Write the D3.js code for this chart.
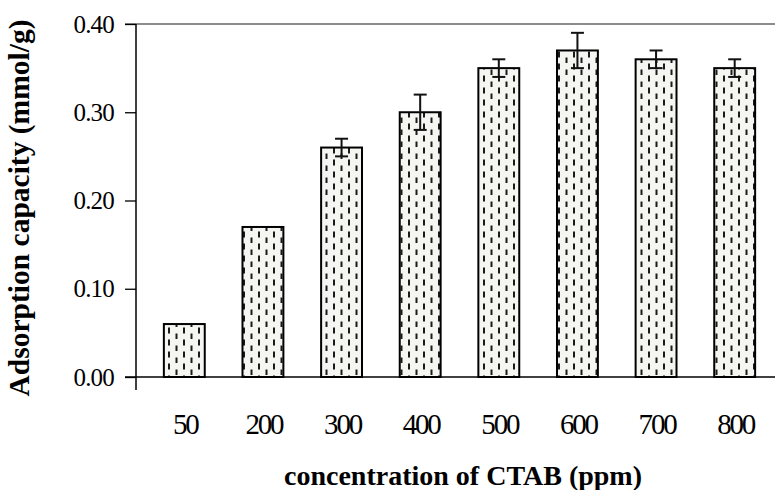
<!DOCTYPE html>
<html>
<head>
<meta charset="utf-8">
<script src="https://cdn.jsdelivr.net/npm/d3@7"></script>
<style>
  html, body { margin: 0; padding: 0; background: #fff; }
  svg { display: block; }
  text { font-family: "Liberation Serif", "Times New Roman", serif; fill: #000; }
</style>
</head>
<body>
<svg id="chart" width="775" height="490"></svg>
<script>
// CTAB concentration (ppm) and measured adsorption capacity (mmol/g)
const categories = ["50", "200", "300", "400", "500", "600", "700", "800"];
const capacity   = [0.06, 0.17, 0.26, 0.30, 0.35, 0.37, 0.36, 0.35];
const errors     = [0, 0, 0.01, 0.02, 0.01, 0.02, 0.01, 0.01];
const yTicks     = [0, 0.1, 0.2, 0.3, 0.4];

const serif = "\"Liberation Serif\", \"Times New Roman\", serif";
const svg = d3.select("#chart");

const x = d3.scaleBand().domain(categories).range([145, 774]).paddingInner(0.48).paddingOuter(0.24);
const y = d3.scaleLinear().domain([0, 0.4]).range([377, 24]);

// dashed-column fill used for the bars
const defs = svg.append("defs");
const pat = defs.append("pattern")
  .attr("id", "dashes")
  .attr("patternUnits", "userSpaceOnUse")
  .attr("width", 15).attr("height", 12)
  .attr("x", 0).attr("y", 3);
pat.append("rect").attr("width", 15).attr("height", 12).attr("fill", "#f5f5f2");
pat.append("line").attr("x1", 4).attr("x2", 4).attr("y1", 0.5).attr("y2", 6.5)
  .attr("stroke", "#1a1a1a").attr("stroke-width", 2);
pat.append("line").attr("x1", 11.5).attr("x2", 11.5).attr("y1", 6.5).attr("y2", 12.5)
  .attr("stroke", "#1a1a1a").attr("stroke-width", 2);

// top reference line at 0.40
svg.append("line")
  .attr("x1", 125).attr("x2", 775)
  .attr("y1", y(0.4)).attr("y2", y(0.4))
  .attr("stroke", "#666").attr("stroke-width", 1.5);

// y axis
const yAxis = d3.axisLeft(y).tickValues(yTicks).tickFormat(d3.format(".2f")).tickSize(11).tickPadding(11);
const gy = svg.append("g").attr("transform", "translate(136,0)").call(yAxis);
gy.attr("font-family", null).attr("font-size", null);
gy.select(".domain").remove();
gy.selectAll(".tick line").attr("stroke", "#000").attr("stroke-width", 1.3);
gy.selectAll(".tick text")
  .style("font-family", serif)
  .style("font-size", "25px")
  .style("letter-spacing", "-0.8px")
  .attr("fill", "#000");

svg.append("line")
  .attr("x1", 136).attr("x2", 136)
  .attr("y1", y(0.4)).attr("y2", 390)
  .attr("stroke", "#000").attr("stroke-width", 1.5);

// bars
svg.append("g").selectAll("rect")
  .data(categories)
  .join("rect")
  .attr("x", (d) => x(d))
  .attr("width", x.bandwidth())
  .attr("y", (d, i) => y(capacity[i]))
  .attr("height", (d, i) => y(0) - y(capacity[i]))
  .attr("fill", "url(#dashes)")
  .attr("stroke", "#000")
  .attr("stroke-width", 2);

// x axis baseline
svg.append("line")
  .attr("x1", 125).attr("x2", 775)
  .attr("y1", y(0)).attr("y2", y(0))
  .attr("stroke", "#000").attr("stroke-width", 1.5);

// error bars
const eb = svg.append("g").selectAll("g")
  .data(categories.map((c, i) => ({ c, v: capacity[i], e: errors[i] })).filter((d) => d.e > 0))
  .join("g")
  .attr("stroke", "#111").attr("stroke-width", 2);
eb.append("line")
  .attr("x1", (d) => x(d.c) + x.bandwidth() / 2).attr("x2", (d) => x(d.c) + x.bandwidth() / 2)
  .attr("y1", (d) => y(d.v + d.e)).attr("y2", (d) => y(d.v - d.e));
eb.append("line")
  .attr("x1", (d) => x(d.c) + x.bandwidth() / 2 - 6.5).attr("x2", (d) => x(d.c) + x.bandwidth() / 2 + 6.5)
  .attr("y1", (d) => y(d.v + d.e)).attr("y2", (d) => y(d.v + d.e));
eb.append("line")
  .attr("x1", (d) => x(d.c) + x.bandwidth() / 2 - 6.5).attr("x2", (d) => x(d.c) + x.bandwidth() / 2 + 6.5)
  .attr("y1", (d) => y(d.v - d.e)).attr("y2", (d) => y(d.v - d.e));

// category labels
const xAxis = d3.axisBottom(x).tickSize(0).tickPadding(0);
const gx = svg.append("g").attr("transform", "translate(1,434)").call(xAxis);
gx.attr("font-family", null).attr("font-size", null);
gx.select(".domain").remove();
gx.selectAll(".tick text")
  .attr("dy", null).attr("y", 0)
  .style("font-family", serif)
  .style("font-size", "29px")
  .style("letter-spacing", "-2.2px")
  .attr("fill", "#000");

// axis titles
svg.append("text")
  .attr("x", 463).attr("y", 485)
  .attr("text-anchor", "middle")
  .style("font-family", serif)
  .style("font-size", "28px").style("font-weight", "bold")
  .text("concentration of CTAB (ppm)");

svg.append("text")
  .attr("transform", "translate(29,208) rotate(-90)")
  .attr("text-anchor", "middle")
  .style("font-family", serif)
  .style("font-size", "29.5px").style("font-weight", "bold")
  .text("Adsorption capacity (mmol/g)");
</script>
</body>
</html>
